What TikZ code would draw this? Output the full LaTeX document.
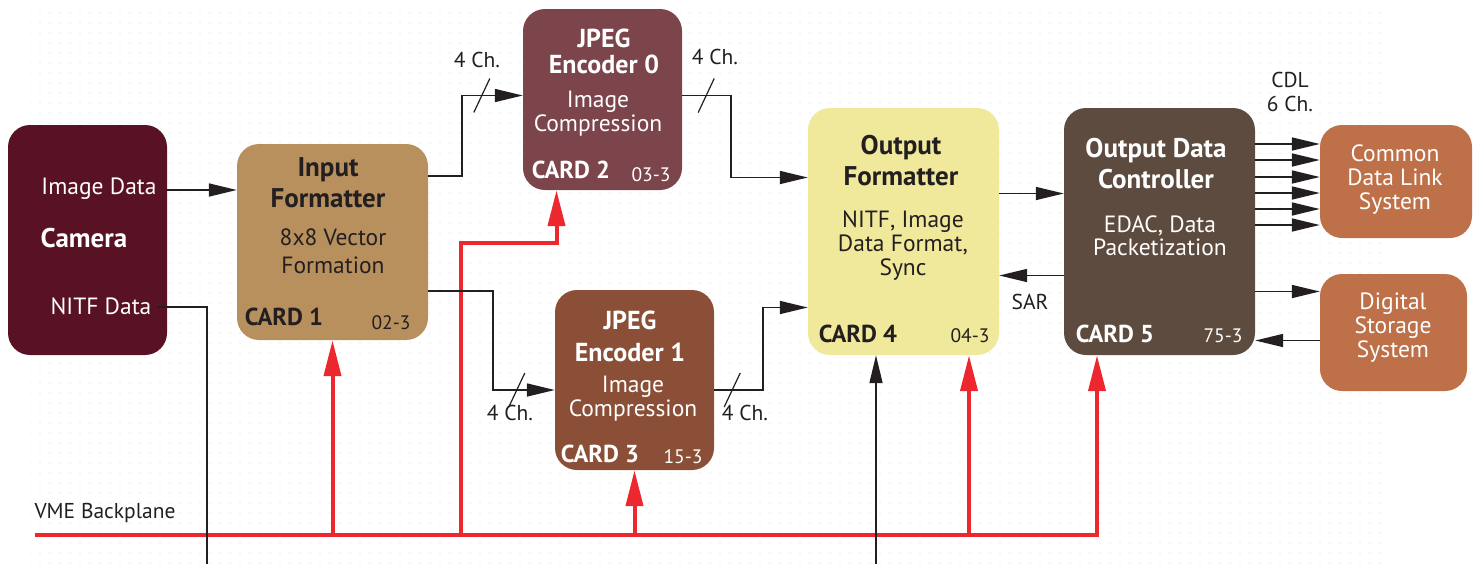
\documentclass[tikz,border=0pt]{standalone}
\usepackage{fontspec}
\setmainfont{PT Sans}
\usetikzlibrary{arrows.meta,calc,patterns.meta}

\definecolor{ink}{RGB}{35,31,32}
\definecolor{camred}{RGB}{88,18,35}
\definecolor{inftan}{RGB}{184,144,94}
\definecolor{jpegA}{RGB}{123,69,75}
\definecolor{jpegB}{RGB}{139,79,55}
\definecolor{outyel}{RGB}{240,232,154}
\definecolor{odcbrn}{RGB}{93,75,64}
\definecolor{sysorg}{RGB}{190,112,72}
\definecolor{vmered}{RGB}{236,40,46}

\newcommand{\chmark}[1]{\draw[ink, line width=1.2pt] ($(#1)+(-8,17)$) -- ($(#1)+(8,-17)$);}

\begin{document}
\begin{tikzpicture}[x=1pt,y=-1pt,
  card/.style n args={3}{fill=#1, rounded corners=22pt, inner sep=0pt,
    minimum width=#2, minimum height=#3},
  ttl/.style={font=\bfseries\fontsize{27}{31}\selectfont, align=center, inner sep=0pt},
  sub/.style={font=\fontsize{23.5}{24}\selectfont, align=center, inner sep=0pt},
  cid/.style={font=\bfseries\fontsize{24.5}{26}\selectfont, inner sep=0pt},
  cno/.style={font=\fontsize{19.5}{21}\selectfont, inner sep=0pt},
  lbl/.style={font=\fontsize{21.5}{24}\selectfont, text=ink, align=center, inner sep=0pt},
  wire/.style={draw=ink, line width=1.6pt},
  conn/.style={wire, -{Triangle[length=28pt,width=13pt]}},
  vme/.style={draw=vmered, line width=4pt},
  vmearr/.style={vme, -{Triangle[length=36pt,width=17pt]}}]

\useasboundingbox (0,0) rectangle (1478,563);
% dotted backdrop
\fill[pattern={Dots[distance=10pt,radius=1.1pt]}, pattern color=black!5] (30,12) rectangle (1385,563);

% Cards
\node[card={camred}{159pt}{230pt}] (cam) at (87.5,240) {};
\node[card={inftan}{191pt}{196pt}] (inf) at (332.5,242) {};
\node[card={jpegA}{159pt}{181pt}] (jp0) at (602.5,99.5) {};
\node[card={jpegB}{159pt}{180pt}] (jp1) at (634.5,380) {};
\node[card={outyel}{191pt}{247pt}] (outf) at (903.5,231.5) {};
\node[card={odcbrn}{191pt}{247pt}] (odc) at (1159.5,231.5) {};
\node[card={sysorg}{152pt}{113pt}] (cdl) at (1396,181.5) {};
\node[card={sysorg}{147pt}{117pt}] (dss) at (1393.5,332.5) {};

% Card texts
\node[sub, text=white] (camImg) at (99,189) {Image Data};
\node[ttl, text=white] (camT) at (84,238) {Camera};
\node[sub, text=white] (camNitf) at (101,306) {NITF Data};

\node[ttl, text=ink] (infT) at (328,183) {Input\\Formatter};
\node[sub, text=ink, font=\fontsize{23.5}{28}\selectfont] (infS) at (333,251) {8x8 Vector\\Formation};
\node[cid, text=ink] (infC) at (284,317) {CARD 1};
\node[cno, text=ink] (infN) at (391,323) {02-3};

\node[ttl, text=white, font=\bfseries\fontsize{26}{26}\selectfont] (jp0T) at (604,51) {JPEG\\Encoder 0};
\node[sub, text=white] (jp0S) at (598,114) {Image\\Compression};
\node[cid, text=white] (jp0C) at (571,170) {CARD 2};
\node[cno, text=white] (jp0N) at (651,175) {03-3};

\node[ttl, text=white, font=\bfseries\fontsize{26}{32}\selectfont] (jp1T) at (630,336) {JPEG\\Encoder 1};
\node[sub, text=white] (jp1S) at (633,399) {Image\\Compression};
\node[cid, text=white] (jp1C) at (600,454) {CARD 3};
\node[cno, text=white] (jp1N) at (683,457) {15-3};

\node[ttl, text=ink] (outT) at (901,161) {Output\\Formatter};
\node[sub, text=ink] (outS) at (903,246) {NITF, Image\\Data Format,\\Sync};
\node[cid, text=ink] (outC) at (858,334) {CARD 4};
\node[cno, text=ink] (outN) at (970,336) {04-3};

\node[ttl, text=white] (odcT) at (1156,164) {Output Data\\Controller};
\node[sub, text=white, font=\fontsize{23.5}{23}\selectfont] (odcS) at (1160,236) {EDAC, Data\\Packetization};
\node[cid, text=white] (odcC) at (1115,334) {CARD 5};
\node[cno, text=white] (odcN) at (1223,336) {75-3};

\node[sub, text=white] (cdlT) at (1395,180) {Common\\Data Link\\System};
\node[sub, text=white] (dssT) at (1393,328) {Digital\\Storage\\System};

% Free ends
\coordinate (nitfOut) at (207,570);
\coordinate (extIn) at (876,570);
\coordinate (vmeL) at (35,535);
\coordinate (tap2) at (461,535);

% VME backplane
\draw[vmearr] (vmeL) -| ([xshift=-62.5pt]odc.south);
\draw[vmearr] (inf.south |- vmeL) -- (inf.south);
\draw[vmearr] (tap2) -- ++(0,-292) -| ([xshift=-46pt]jp0.south);
\draw[vmearr] (jp1.south |- vmeL) -- (jp1.south);
\draw[vmearr] ([xshift=65.5pt]outf.south |- vmeL) -- ([xshift=65.5pt]outf.south);
\node[lbl] (vmeT) at (105,513) {VME Backplane};

% Data paths
\draw[conn] ([yshift=50pt]cam.east) -- ([yshift=50pt]cam.east -| inf.west);
\draw[wire] ([xshift=-9pt,yshift=-67pt]cam.east) -| (nitfOut);
\draw[conn] ([yshift=66pt]inf.east) -- ++(34,0) |- ([yshift=4pt]jp0.west);
\draw[conn] ([yshift=-49pt]inf.east) -- ++(65,0) |- ([yshift=-10pt]jp1.west);
\draw[conn] ([yshift=4pt]jp0.east) -- ++(49,0) |- ([yshift=54pt]outf.west);
\draw[conn] ([yshift=-10pt]jp1.east) -- ++(49,0) |- ([yshift=-76pt]outf.west);
\draw[conn] ([yshift=38pt]outf.east) -- ([yshift=38pt]odc.west);
\draw[conn] ([yshift=-44pt]odc.west) -- ([yshift=-44pt]outf.east);
\foreach \dy in {87.5,71.5,54.5,38.5,22.5,6.5}
  \draw[conn] ([yshift=\dy pt]odc.east) -- ([yshift=\dy pt]odc.east -| cdl.west);
\draw[conn] ([yshift=-60pt]odc.east) -- ([yshift=-60pt]odc.east -| dss.west);
\draw[conn] ([yshift=-8pt]dss.west) -- ([yshift=-8pt]dss.west -| odc.east);
\draw[conn] (extIn) -- (extIn |- outf.south);

% Channel marks
\chmark{$([yshift=4pt]jp0.west)+(-41,0)$}
\chmark{$([yshift=-10pt]jp1.west)+(-38,0)$}
\chmark{$([yshift=4pt]jp0.east)+(24,0)$}
\chmark{$([yshift=-10pt]jp1.east)+(18,0)$}
\node[lbl] (ch0in) at (477,60) {4 Ch.};
\node[lbl] (ch0out) at (715,57) {4 Ch.};
\node[lbl] (ch1in) at (510,413) {4 Ch.};
\node[lbl] (ch1out) at (745,413) {4 Ch.};
\node[lbl] (sarT) at (1030,302) {SAR};
\node[lbl] (cdlL) at (1290,92) {CDL\\6 Ch.};
\end{tikzpicture}
\end{document}
